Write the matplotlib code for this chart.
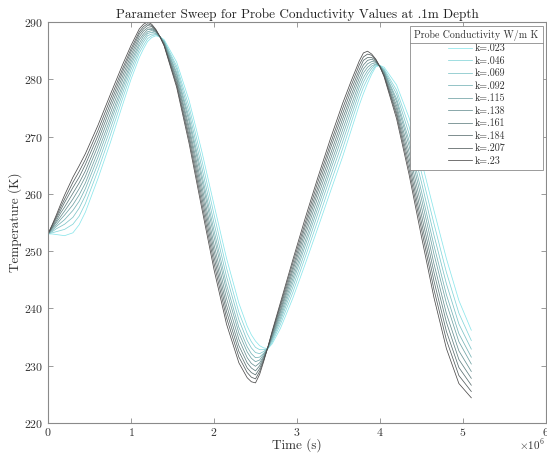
import numpy as np
import matplotlib
matplotlib.use("Agg")
import matplotlib.pyplot as plt
from matplotlib.lines import Line2D

plt.rcParams['font.family'] = 'serif'
plt.rcParams['font.serif'] = ['cmr10']
plt.rcParams['mathtext.fontset'] = 'cm'
plt.rcParams['axes.formatter.use_mathtext'] = True

# time in units of 1e6 s
t_mega = [0, 0.05, 0.1, 0.2, 0.3, 0.45, 0.6, 0.75, 0.9, 1.0, 1.1, 1.2, 1.3, 1.4,
          1.55, 1.7, 1.85, 2.0, 2.15, 2.3, 2.4, 2.5, 2.6, 2.7, 2.8, 2.95, 3.1,
          3.25, 3.4, 3.55, 3.65, 3.75, 3.85, 3.95, 4.05, 4.2, 4.35, 4.5, 4.65,
          4.8, 4.95, 5.1]
# extra readings around the bends
t_mega_extra = [0.15, 0.375, 1.15, 1.25, 1.35, 2.45, 2.55, 2.65, 3.8, 3.9, 4.0]

labels = ['k=.023', 'k=.046', 'k=.069', 'k=.092', 'k=.115',
          'k=.138', 'k=.161', 'k=.184', 'k=.207', 'k=.23']

T_023 = [253.0, 253.0, 252.9, 252.7, 253.2, 256.8, 262.6, 268.9, 275.6, 280.0, 283.8, 286.6, 287.6, 286.9,
         283.0, 276.3, 267.6, 258.1, 248.8, 240.9, 236.9, 234.3, 233.1, 233.8, 236.5, 241.8, 247.8,
         254.0, 260.3, 266.5, 271.0, 275.5, 279.3, 282.2, 282.1, 279.0, 273.3, 265.7, 257.1,
         248.7, 241.4, 236.2]
T_046 = [253.0, 253.2, 253.4, 253.8, 254.7, 258.3, 264.0, 270.2, 276.7, 280.9, 284.6, 287.1, 287.8, 286.7,
         282.3, 275.2, 266.1, 256.4, 247.1, 239.3, 235.6, 233.2, 232.8, 234.1, 237.2, 242.8, 249.0,
         255.3, 261.7, 267.9, 272.3, 276.7, 280.1, 282.4, 281.8, 278.1, 271.8, 263.7, 254.8,
         246.3, 239.2, 234.4]
T_069 = [253.0, 253.4, 253.9, 254.7, 255.9, 259.7, 265.2, 271.3, 277.6, 281.7, 285.2, 287.6, 287.9, 286.6,
         281.8, 274.2, 264.8, 254.9, 245.6, 238.0, 234.4, 232.3, 232.5, 234.4, 237.8, 243.7, 250.0,
         256.5, 262.9, 269.1, 273.4, 277.7, 280.9, 282.6, 281.6, 277.4, 270.5, 262.0, 252.8,
         244.3, 237.3, 232.9]
T_092 = [253.0, 253.6, 254.3, 255.5, 257.1, 260.9, 266.3, 272.3, 278.4, 282.4, 285.8, 288.0, 288.0, 286.5,
         281.2, 273.3, 263.6, 253.6, 244.2, 236.7, 233.3, 231.4, 232.2, 234.7, 238.3, 244.5, 251.0,
         257.5, 264.0, 270.2, 274.4, 278.6, 281.5, 282.7, 281.4, 276.6, 269.3, 260.4, 251.0,
         242.4, 235.6, 231.5]
T_115 = [253.0, 253.8, 254.6, 256.3, 258.1, 261.9, 267.3, 273.1, 279.1, 283.0, 286.3, 288.3, 288.2, 286.4,
         280.8, 272.6, 262.7, 252.5, 243.1, 235.7, 232.4, 230.7, 232.0, 234.9, 238.8, 245.2, 251.8,
         258.4, 264.9, 271.2, 275.3, 279.4, 282.1, 282.9, 281.3, 276.1, 268.4, 259.1, 249.5,
         240.9, 234.2, 230.3]
T_138 = [253.0, 254.0, 255.0, 257.0, 259.1, 263.0, 268.3, 274.0, 279.9, 283.6, 286.9, 288.7, 288.3, 286.2,
         280.3, 271.7, 261.6, 251.2, 241.8, 234.6, 231.4, 229.9, 231.7, 235.1, 239.3, 245.9, 252.7,
         259.4, 265.9, 272.2, 276.3, 280.2, 282.7, 283.0, 281.1, 275.4, 267.3, 257.7, 247.8,
         239.1, 232.6, 229.0]
T_161 = [253.0, 254.1, 255.3, 257.7, 260.1, 264.0, 269.2, 274.9, 280.6, 284.2, 287.4, 289.0, 288.4, 286.1,
         279.9, 271.0, 260.6, 250.1, 240.6, 233.5, 230.5, 229.1, 231.5, 235.4, 239.7, 246.6, 253.5,
         260.3, 266.8, 273.1, 277.1, 281.0, 283.3, 283.1, 280.9, 274.8, 266.3, 256.3, 246.3,
         237.6, 231.1, 227.8]
T_184 = [253.0, 254.3, 255.7, 258.5, 261.1, 265.1, 270.1, 275.7, 281.3, 284.8, 287.9, 289.4, 288.5, 286.0,
         279.4, 270.2, 259.6, 249.0, 239.5, 232.5, 229.6, 228.4, 231.2, 235.6, 240.2, 247.2, 254.3,
         261.1, 267.8, 274.0, 278.0, 281.7, 283.8, 283.3, 280.7, 274.2, 265.3, 255.0, 244.8,
         236.0, 229.7, 226.6]
T_207 = [253.0, 254.5, 256.0, 259.1, 262.0, 266.0, 271.0, 276.5, 281.9, 285.3, 288.3, 289.7, 288.6, 285.9,
         279.0, 269.5, 258.6, 247.9, 238.4, 231.5, 228.8, 227.7, 231.0, 235.8, 240.6, 247.9, 255.0,
         262.0, 268.6, 274.9, 278.8, 282.5, 284.4, 283.4, 280.6, 273.7, 264.3, 253.8, 243.3,
         234.5, 228.3, 225.5]
T_230 = [253.0, 254.6, 256.3, 259.8, 262.9, 267.0, 271.9, 277.3, 282.6, 285.9, 288.8, 290.0, 288.7, 285.8,
         278.6, 268.8, 257.7, 246.8, 237.3, 230.5, 227.9, 227.0, 230.8, 236.0, 241.0, 248.5, 255.8,
         262.8, 269.5, 275.8, 279.6, 283.2, 284.9, 283.5, 280.4, 273.1, 263.4, 252.5, 241.9,
         233.0, 226.9, 224.4]

# values at t_mega_extra
T_023_extra = [252.8, 254.6, 285.3, 287.3, 287.4, 235.4, 233.5, 233.0, 277.5, 280.9, 282.4]
T_046_extra = [253.6, 256.1, 285.9, 287.6, 287.4, 234.2, 232.8, 233.0, 278.6, 281.4, 282.4]
T_069_extra = [254.3, 257.5, 286.5, 287.9, 287.4, 233.1, 232.1, 233.1, 279.5, 281.9, 282.3]
T_092_extra = [254.9, 258.7, 287.0, 288.2, 287.4, 232.1, 231.5, 233.1, 280.3, 282.3, 282.3]
T_115_extra = [255.5, 259.8, 287.5, 288.5, 287.4, 231.3, 231.0, 233.2, 281.1, 282.7, 282.3]
T_138_extra = [256.0, 260.9, 287.9, 288.7, 287.4, 230.4, 230.5, 233.2, 281.8, 283.1, 282.2]
T_161_extra = [256.6, 261.9, 288.4, 288.9, 287.4, 229.6, 230.0, 233.2, 282.5, 283.5, 282.2]
T_184_extra = [257.1, 262.9, 288.8, 289.2, 287.4, 228.8, 229.5, 233.2, 283.3, 283.8, 282.2]
T_207_extra = [257.6, 263.9, 289.2, 289.4, 287.4, 228.0, 229.0, 233.3, 283.9, 284.2, 282.1]
T_230_extra = [258.1, 264.9, 289.6, 289.6, 287.4, 227.2, 228.5, 233.3, 284.6, 284.4, 282.2]

series = [(T_023, T_023_extra), (T_046, T_046_extra), (T_069, T_069_extra),
          (T_092, T_092_extra), (T_115, T_115_extra), (T_138, T_138_extra),
          (T_161, T_161_extra), (T_184, T_184_extra), (T_207, T_207_extra),
          (T_230, T_230_extra)]

t_all = np.array(t_mega + t_mega_extra)
order = np.argsort(t_all)
time_s = t_all[order] * 1e6

c0 = np.array([0.55, 0.9, 0.92])
c1 = np.array([0.3, 0.3, 0.3])
colors = [c0 + (c1 - c0) * f for f in np.linspace(0, 1, len(series))]

fig = plt.figure(figsize=(5.47, 4.53), dpi=100)
ax = fig.add_axes([48 / 547, 30 / 453, 498 / 547, 401 / 453])

for (T, T_ex), lab, col in zip(series, labels, colors):
    vals = np.array(T + T_ex)[order]
    ax.plot(time_s, vals, color=col, lw=0.55, label=lab)

ax.set_xlim(0, 6e6)
ax.set_ylim(220, 290)
ax.set_xticks(np.arange(0, 7) * 1e6)
ax.set_yticks(np.arange(220, 291, 10))

axcol = '#8a8a8a'
txtcol = '#333333'
for sp in ax.spines.values():
    sp.set_color(axcol)
    sp.set_linewidth(0.8)
ax.tick_params(direction='in', top=True, right=True, length=3.5, width=0.6,
               color=axcol, labelcolor=txtcol, labelsize=8.5)
ax.tick_params(axis='x', pad=2.5)
ax.xaxis.get_offset_text().set_visible(False)
ax.text(0.997, -0.036, r'$\times10^{6}$', transform=ax.transAxes, ha='right',
        va='top', fontsize=8, color=txtcol)

ax.set_title('Parameter Sweep for Probe Conductivity Values at .1m Depth',
             fontsize=9.5, color='#222222', pad=3)
ax.set_xlabel('Time (s)', fontsize=9.5, color=txtcol, labelpad=0)
ax.set_ylabel('Temperature (K)', fontsize=9.5, color=txtcol, labelpad=1)

leg = ax.legend(loc='upper right', title='Probe Conductivity W/m K',
                fontsize=7.2, title_fontsize=7.2, fancybox=False, framealpha=1,
                edgecolor=axcol, handlelength=2.4, labelspacing=0.3,
                handletextpad=0.3, borderaxespad=0.35, borderpad=0.4)
leg.get_frame().set_linewidth(0.6)
for t in leg.get_texts():
    t.set_color(txtcol)
leg.get_title().set_color(txtcol)

# separator line under legend title (MATLAB style)
fig.canvas.draw()
lb = leg.get_window_extent()
tb = leg.get_title().get_window_extent()
ysep = tb.y0 - 2
inv = fig.transFigure.inverted()
(x0, y0), (x1, _) = inv.transform([(lb.x0, ysep), (lb.x1, ysep)])
fig.add_artist(Line2D([x0, x1], [y0, y0], color=axcol, lw=0.6))

fig.savefig('out.png', dpi=100)
